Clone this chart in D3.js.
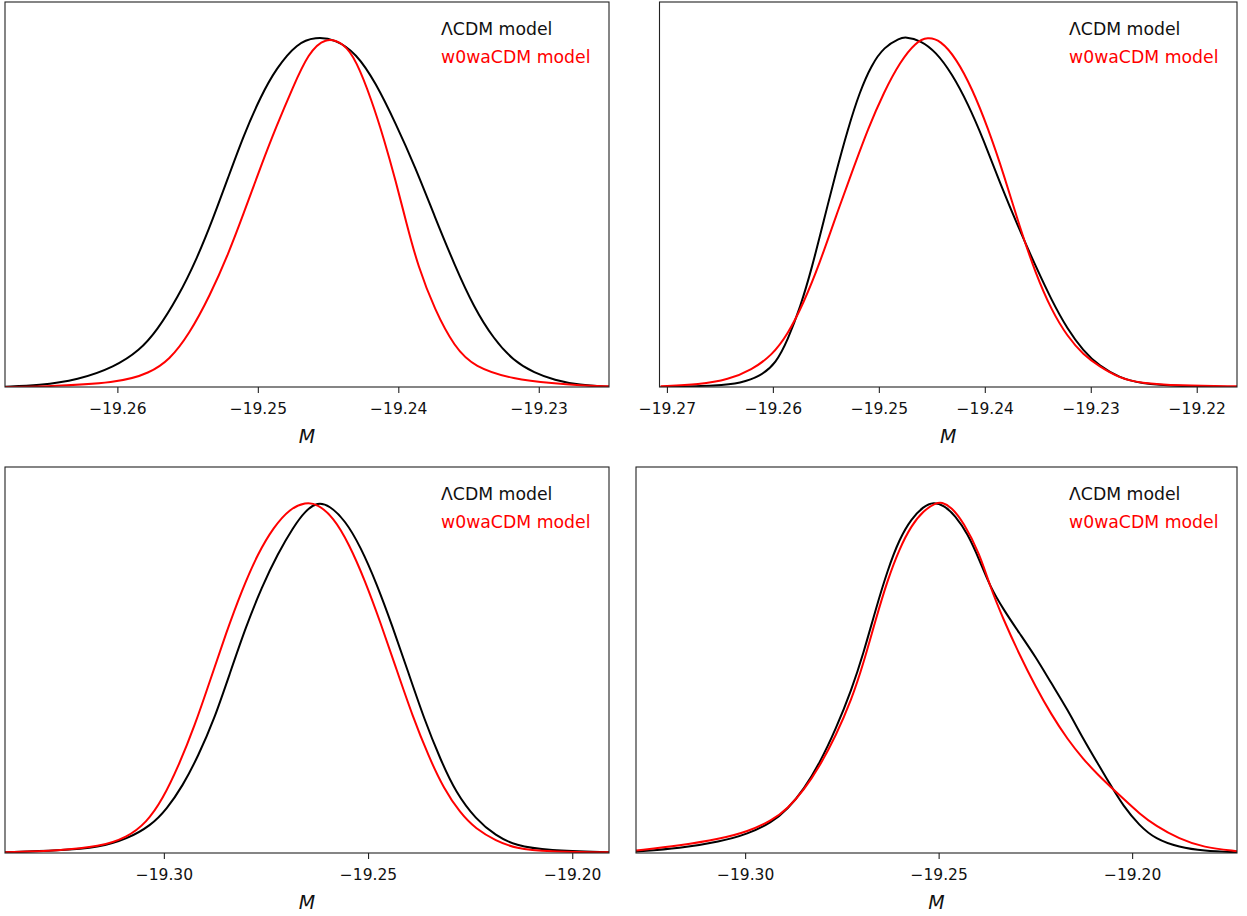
<!DOCTYPE html>
<html><head><meta charset="utf-8">
<script src="https://cdn.jsdelivr.net/npm/d3@7"></script>
<style>
body{margin:0;background:#fff;}
svg{display:block;}
text{font-family:"DejaVu Sans", sans-serif;}
</style>
</head><body>
<svg id="chart" width="1247" height="916"></svg>
<script>
// ---------- data ----------
const seriesNames = ["\u039BCDM model", "w0waCDM model"];
const xLabel = "M";

const p1Domain = [-19.2680, -19.2250];
const p1Ticks = [-19.26, -19.25, -19.24, -19.23];
const p1LCDM = [[-19.2680,0.001],[-19.2656,0.004],[-19.2628,0.020],[-19.2602,0.057],[-19.2584,0.105],[-19.2572,0.160],[-19.2557,0.255],[-19.2543,0.370],[-19.2532,0.480],[-19.2521,0.600],[-19.2510,0.720],[-19.2498,0.830],[-19.2487,0.910],[-19.2472,0.983],[-19.2459,1.000],[-19.2445,0.994],[-19.2430,0.954],[-19.2416,0.869],[-19.2402,0.754],[-19.2388,0.629],[-19.2374,0.486],[-19.2360,0.349],[-19.2346,0.226],[-19.2332,0.137],[-19.2318,0.075],[-19.2303,0.040],[-19.2289,0.020],[-19.2271,0.005],[-19.2250,0.001]];
const p1W0wa = [[-19.2680,0.000],[-19.2656,0.001],[-19.2599,0.011],[-19.2577,0.040],[-19.2563,0.077],[-19.2549,0.150],[-19.2534,0.262],[-19.2521,0.380],[-19.2510,0.497],[-19.2498,0.629],[-19.2487,0.743],[-19.2475,0.857],[-19.2464,0.954],[-19.2452,1.000],[-19.2439,0.983],[-19.2430,0.934],[-19.2419,0.820],[-19.2410,0.706],[-19.2402,0.591],[-19.2394,0.465],[-19.2386,0.345],[-19.2374,0.220],[-19.2360,0.114],[-19.2346,0.057],[-19.2318,0.022],[-19.2289,0.010],[-19.2271,0.005],[-19.2250,0.002]];

const p2Domain = [-19.2707, -19.2162];
const p2Ticks = [-19.27, -19.26, -19.25, -19.24, -19.23, -19.22];
const p2LCDM = [[-19.2706,0.000],[-19.2650,0.004],[-19.2631,0.011],[-19.2612,0.030],[-19.2597,0.068],[-19.2586,0.134],[-19.2574,0.229],[-19.2563,0.342],[-19.2552,0.475],[-19.2541,0.607],[-19.2529,0.740],[-19.2518,0.844],[-19.2507,0.920],[-19.2495,0.972],[-19.2480,0.997],[-19.2475,1.000],[-19.2461,0.991],[-19.2446,0.957],[-19.2431,0.895],[-19.2416,0.810],[-19.2401,0.705],[-19.2386,0.585],[-19.2367,0.447],[-19.2352,0.345],[-19.2337,0.248],[-19.2322,0.165],[-19.2307,0.103],[-19.2292,0.060],[-19.2273,0.027],[-19.2254,0.010],[-19.2216,0.002],[-19.2162,0.000]];
const p2W0wa = [[-19.2706,0.002],[-19.2669,0.007],[-19.2642,0.021],[-19.2620,0.049],[-19.2601,0.090],[-19.2586,0.150],[-19.2571,0.240],[-19.2556,0.352],[-19.2541,0.484],[-19.2525,0.617],[-19.2510,0.740],[-19.2495,0.844],[-19.2480,0.929],[-19.2465,0.986],[-19.2454,1.000],[-19.2442,0.991],[-19.2427,0.939],[-19.2412,0.853],[-19.2397,0.740],[-19.2382,0.607],[-19.2367,0.456],[-19.2352,0.324],[-19.2337,0.219],[-19.2322,0.144],[-19.2307,0.092],[-19.2292,0.059],[-19.2273,0.026],[-19.2254,0.011],[-19.2216,0.004],[-19.2162,0.002]];

const p3Domain = [-19.3389, -19.1910];
const p3Ticks = [-19.30, -19.25, -19.20];
const p3LCDM = [[-19.3389,0.002],[-19.3255,0.007],[-19.3158,0.016],[-19.3090,0.040],[-19.3032,0.078],[-19.2993,0.125],[-19.2954,0.191],[-19.2916,0.276],[-19.2877,0.380],[-19.2838,0.513],[-19.2799,0.645],[-19.2760,0.759],[-19.2721,0.853],[-19.2683,0.929],[-19.2653,0.976],[-19.2624,1.000],[-19.2595,0.991],[-19.2556,0.948],[-19.2518,0.872],[-19.2479,0.768],[-19.2440,0.645],[-19.2401,0.513],[-19.2362,0.380],[-19.2323,0.267],[-19.2285,0.172],[-19.2236,0.096],[-19.2187,0.049],[-19.2139,0.021],[-19.2061,0.007],[-19.1906,0.002]];
const p3W0wa = [[-19.3389,0.002],[-19.3255,0.007],[-19.3158,0.018],[-19.3090,0.044],[-19.3042,0.087],[-19.3003,0.153],[-19.2964,0.248],[-19.2925,0.361],[-19.2886,0.494],[-19.2848,0.626],[-19.2809,0.749],[-19.2770,0.853],[-19.2731,0.929],[-19.2692,0.981],[-19.2653,1.000],[-19.2624,0.995],[-19.2585,0.957],[-19.2547,0.882],[-19.2508,0.778],[-19.2469,0.655],[-19.2430,0.522],[-19.2391,0.390],[-19.2352,0.276],[-19.2314,0.182],[-19.2275,0.115],[-19.2236,0.068],[-19.2187,0.035],[-19.2139,0.013],[-19.2061,0.004],[-19.1906,0.002]];

const p4Domain = [-19.3282, -19.1729];
const p4Ticks = [-19.30, -19.25, -19.20];
const p4LCDM = [[-19.3282,0.004],[-19.3168,0.013],[-19.3065,0.032],[-19.2993,0.054],[-19.2931,0.087],[-19.2890,0.125],[-19.2848,0.182],[-19.2807,0.257],[-19.2766,0.352],[-19.2725,0.465],[-19.2694,0.570],[-19.2663,0.693],[-19.2632,0.806],[-19.2601,0.896],[-19.2570,0.953],[-19.2539,0.988],[-19.2513,1.000],[-19.2487,0.991],[-19.2457,0.962],[-19.2425,0.910],[-19.2394,0.834],[-19.2367,0.759],[-19.2332,0.693],[-19.2291,0.626],[-19.2250,0.560],[-19.2209,0.484],[-19.2167,0.409],[-19.2126,0.324],[-19.2085,0.248],[-19.2057,0.196],[-19.2023,0.134],[-19.1981,0.078],[-19.1940,0.040],[-19.1878,0.016],[-19.1816,0.006],[-19.1729,0.002]];
const p4W0wa = [[-19.3282,0.007],[-19.3168,0.021],[-19.3065,0.040],[-19.2993,0.061],[-19.2931,0.092],[-19.2890,0.127],[-19.2848,0.179],[-19.2807,0.248],[-19.2766,0.333],[-19.2725,0.437],[-19.2694,0.541],[-19.2663,0.664],[-19.2632,0.778],[-19.2601,0.868],[-19.2570,0.934],[-19.2539,0.976],[-19.2508,0.997],[-19.2492,1.000],[-19.2467,0.986],[-19.2436,0.943],[-19.2394,0.853],[-19.2367,0.759],[-19.2332,0.664],[-19.2291,0.565],[-19.2250,0.475],[-19.2209,0.395],[-19.2167,0.324],[-19.2126,0.267],[-19.2085,0.219],[-19.2057,0.190],[-19.2023,0.155],[-19.1981,0.112],[-19.1940,0.078],[-19.1878,0.040],[-19.1816,0.016],[-19.1729,0.005]];

// ---------- layout & style ----------
const layout = [
  {x0:5,   x1:609,  y0:2,   y1:387},
  {x0:659.5, x1:1237, y0:2, y1:387},
  {x0:5,   x1:609,  y0:467, y1:853},
  {x0:636, x1:1237, y0:467, y1:853}
];
const panels = [
  {domain:p1Domain, ticks:p1Ticks, series:[p1LCDM, p1W0wa]},
  {domain:p2Domain, ticks:p2Ticks, series:[p2LCDM, p2W0wa]},
  {domain:p3Domain, ticks:p3Ticks, series:[p3LCDM, p3W0wa]},
  {domain:p4Domain, ticks:p4Ticks, series:[p4LCDM, p4W0wa]}
];
const colors = ["#000000", "#ff0000"];

const svg = d3.select("#chart");
svg.append("rect").attr("width",1247).attr("height",916).attr("fill","#fff");

panels.forEach((p, i) => {
  const L = layout[i];
  const g = svg.append("g");
  const x = d3.scaleLinear().domain(p.domain).range([L.x0, L.x1]);
  const y = d3.scaleLinear().domain([0, 1.1]).range([L.y1, L.y0]);

  const clipId = "clip" + i;
  svg.append("clipPath").attr("id", clipId).append("rect")
    .attr("x", L.x0).attr("y", L.y0).attr("width", L.x1 - L.x0).attr("height", L.y1 - L.y0);

  const line = d3.line().x(d => x(d[0])).y(d => y(d[1])).curve(d3.curveBasis);
  p.series.forEach((s, k) => {
    g.append("path").datum(s).attr("d", line)
      .attr("fill", "none").attr("stroke", colors[k]).attr("stroke-width", 2)
      .attr("stroke-linejoin","round")
      .attr("clip-path", `url(#${clipId})`);
  });

  g.append("rect").attr("x", L.x0).attr("y", L.y0)
    .attr("width", L.x1 - L.x0).attr("height", L.y1 - L.y0)
    .attr("fill", "none").attr("stroke", "#222").attr("stroke-width", 1.1);

  const ax = g.append("g").attr("transform", `translate(0,${L.y1})`)
    .call(d3.axisBottom(x).tickValues(p.ticks).tickFormat(d3.format(".2f")).tickSize(6).tickPadding(10));
  ax.select(".domain").remove();
  ax.selectAll(".tick line").attr("stroke", "#222").attr("stroke-width", 1.1);
  ax.selectAll(".tick text").attr("fill", "#111").style("font-size", "15.5px")
    .style("font-family", "DejaVu Sans, sans-serif");

  g.append("text").attr("x", (L.x0 + L.x1) / 2).attr("y", L.y1 + 56)
    .attr("text-anchor", "middle").style("font-size", "19px").style("font-style", "italic")
    .attr("fill", "#111").text(xLabel);

  seriesNames.forEach((name, k) => {
    g.append("text").attr("x", L.x1 - 168).attr("y", L.y0 + 33 + k * 27.5)
      .style("font-size", "17.3px").attr("fill", colors[k] === "#000000" ? "#111" : colors[k])
      .text(name);
  });
});
</script>
</body></html>
